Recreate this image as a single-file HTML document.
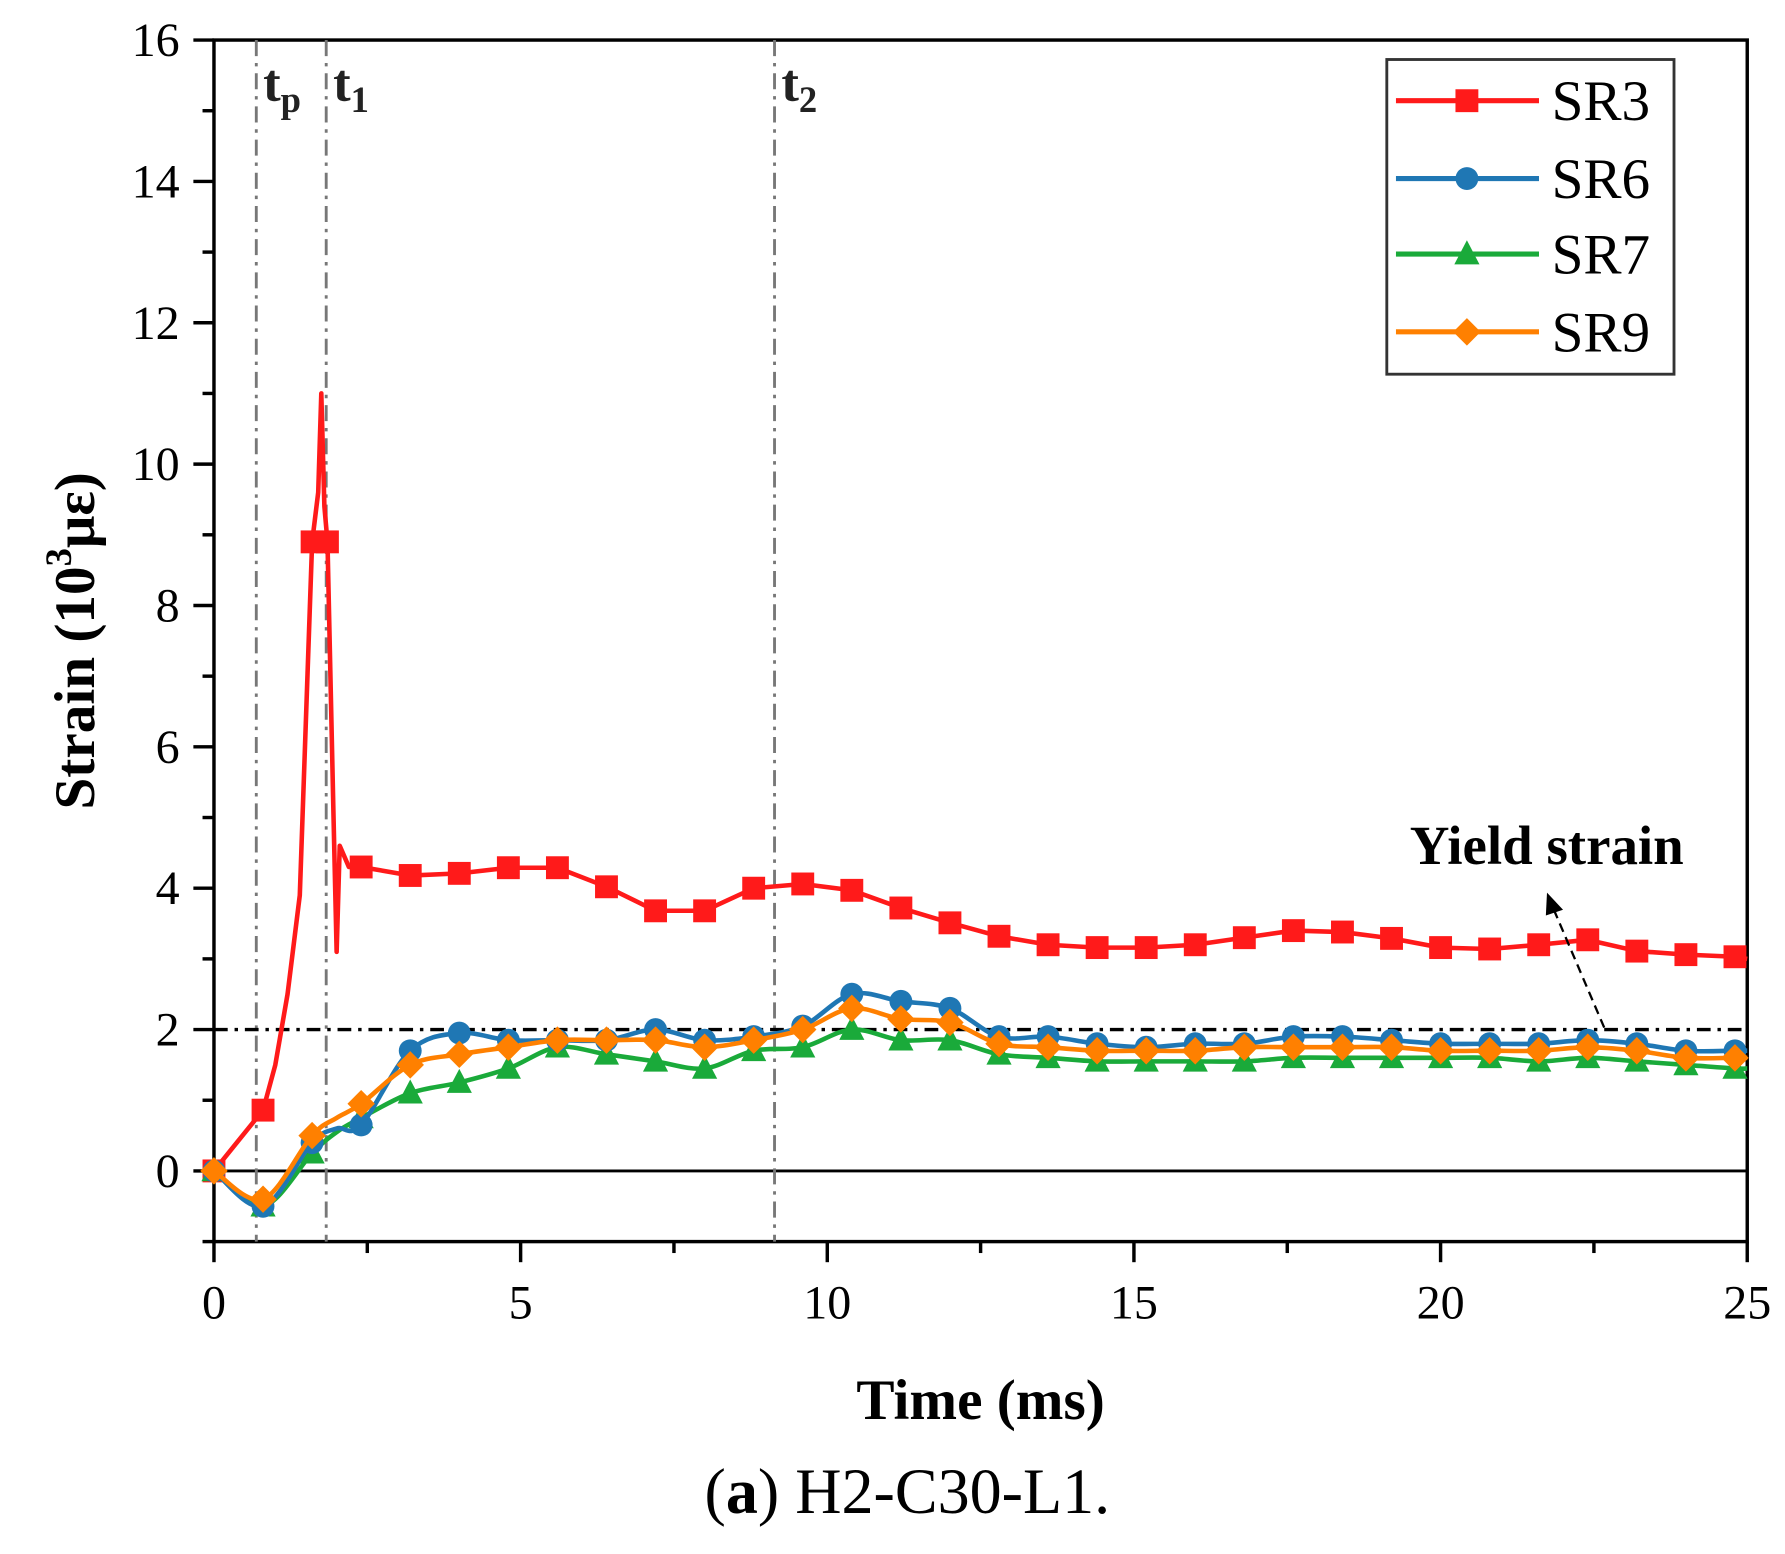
<!DOCTYPE html>
<html><head><meta charset="utf-8"><style>
html,body{margin:0;padding:0;background:#fff;}
svg{display:block;}
text{font-family:"Liberation Serif",serif;}
</style></head><body>
<svg id="chart" width="1785" height="1554" viewBox="0 0 1560 1358" preserveAspectRatio="none" xmlns="http://www.w3.org/2000/svg">
</svg>
<script>
const xTicks = [0,5,10,15,20,25];
const yTicks = [0,2,4,6,8,10,12,14,16];
const seriesNames = ["SR3","SR6","SR7","SR9"];
const seriesColors = ["#ff1a1a","#1f77b4","#1aaa3a","#ff8000"];
const markerTimes = [0.8,1.6,2.4,3.2,4.0,4.8,5.6,6.4,7.2,8.0,8.8,9.6,10.4,11.2,12.0,12.8,13.6,14.4,15.2,16.0,16.8,17.6,18.4,19.2,20.0,20.8,21.6,22.4,23.2,24.0,24.8];
const sr3Times = [0,0.8,1.0,1.2,1.4,1.6,1.7,1.75,1.8,1.85,1.95,2.0,2.05,2.2,2.4,3.2,4.0,4.8,5.6,6.4,7.2,8.0,8.8,9.6,10.4,11.2,12.0,12.8,13.6,14.4,15.2,16.0,16.8,17.6,18.4,19.2,20.0,20.8,21.6,22.4,23.2,24.0,24.8,25];
const sr3Values = [0,0.86,1.5,2.5,3.9,8.9,9.6,11.0,9.4,8.9,5.0,3.1,4.6,4.3,4.3,4.18,4.21,4.29,4.29,4.02,3.68,3.68,4.0,4.06,3.97,3.72,3.51,3.32,3.2,3.16,3.16,3.2,3.3,3.4,3.38,3.29,3.16,3.14,3.2,3.27,3.11,3.06,3.03,3.0];
const otherTimes = [0,0.8,1.6,2.0,2.4,3.2,4.0,4.8,5.6,6.4,7.2,8.0,8.8,9.6,10.4,11.2,12.0,12.8,13.6,14.4,15.2,16.0,16.8,17.6,18.4,19.2,20.0,20.8,21.6,22.4,23.2,24.0,24.8,25];
const sr6Values = [0,-0.5,0.4,0.6,0.65,1.7,1.95,1.85,1.85,1.85,2.0,1.85,1.9,2.05,2.5,2.4,2.3,1.9,1.9,1.8,1.75,1.8,1.8,1.9,1.9,1.85,1.8,1.8,1.8,1.85,1.8,1.7,1.7,1.7];
const sr7Values = [0,-0.5,0.25,0.55,0.75,1.1,1.25,1.45,1.75,1.65,1.55,1.45,1.7,1.75,2.0,1.85,1.85,1.65,1.6,1.55,1.55,1.55,1.55,1.6,1.6,1.6,1.6,1.6,1.55,1.6,1.55,1.5,1.45,1.45];
const sr9Values = [0,-0.4,0.5,0.75,0.95,1.5,1.65,1.75,1.85,1.85,1.85,1.75,1.85,2.0,2.3,2.15,2.1,1.8,1.75,1.7,1.7,1.7,1.75,1.75,1.75,1.75,1.7,1.7,1.7,1.75,1.7,1.6,1.6,1.6];
const eventTimes = [0.69,1.83,9.14];
const yieldStrain = 2;

const NS="http://www.w3.org/2000/svg";
const svg=document.getElementById('chart');
const L=187,R=1527,T=35,B=1085;
const X=t=>L+(t-0)/(25-0)*(R-L);
const Y=v=>B-(v-(-1))/(16-(-1))*(B-T);
function mk(tag,attrs,parent){const e=document.createElementNS(NS,tag);for(const k in attrs)e.setAttribute(k,attrs[k]);(parent||svg).appendChild(e);return e;}

let e=mk('rect',{x:L,y:T,width:R-L,height:B-T,fill:'none',stroke:'#000','stroke-width':3});


e=mk('line',{x1:L,y1:Y(0),x2:R,y2:Y(0),stroke:'#000','stroke-width':2.5});



for(let v=-1;v<=16;v++){
  const major=v%2===0;
  e=mk('line',{x1:L-(major?18:10),y1:Y(v),x2:L,y2:Y(v),stroke:'#000','stroke-width':3});
  
  
}
yTicks.forEach(v=>{
  e=mk('text',{x:L-30,y:Y(v)+14,'text-anchor':'end','font-size':42});
  e.textContent=v;
  
  
});
for(let t=0;t<=25;t+=2.5){
  const major=t%5===0;
  e=mk('line',{x1:X(t),y1:B,x2:X(t),y2:B+(major?18:10),stroke:'#000','stroke-width':3});
  
  
}
xTicks.forEach(t=>{
  e=mk('text',{x:X(t),y:1152,'text-anchor':'middle','font-size':42});
  e.textContent=t;
  
  
});

const evLabels=[['t','p'],['t','1'],['t','2']];
eventTimes.forEach((t,i)=>{
  e=mk('line',{x1:X(t),y1:T,x2:X(t),y2:B,stroke:'#777','stroke-width':2.5,'stroke-dasharray':'14 6 3 6'});
  
  
  const tx=mk('text',{x:X(t)+6,y:88,'font-size':46,'font-weight':'bold',fill:'#222'});
  tx.innerHTML=evLabels[i][0]+'<tspan font-size="32" dy="10">'+evLabels[i][1]+'</tspan>';
  
  
});

e=mk('line',{x1:L,y1:Y(yieldStrain),x2:R,y2:Y(yieldStrain),stroke:'#000','stroke-width':3,'stroke-dasharray':'12 6 3 6'});



function marker(type,x,y,c,name){
  let m;
  if(type===0)m=mk('rect',{x:x-10,y:y-10,width:20,height:20,fill:c});
  else if(type===1)m=mk('circle',{cx:x,cy:y,r:10,fill:c});
  else if(type===2)m=mk('polygon',{points:`${x},${y-12} ${x+11},${y+9} ${x-11},${y+9}`,fill:c});
  else m=mk('polygon',{points:`${x},${y-12} ${x+12},${y} ${x},${y+12} ${x-12},${y}`,fill:c});
  
  
}
function smooth(pts){
  let d='M'+pts[0][0].toFixed(1)+' '+pts[0][1].toFixed(1);
  for(let i=0;i<pts.length-1;i++){
    const p0=pts[Math.max(0,i-1)],p1=pts[i],p2=pts[i+1],p3=pts[Math.min(pts.length-1,i+2)];
    const k=(p2[0]-p1[0])<8?0:1/6;
    const c1=[p1[0]+(p2[0]-p0[0])*k,p1[1]+(p2[1]-p0[1])*k];
    const c2=[p2[0]-(p3[0]-p1[0])*k,p2[1]-(p3[1]-p1[1])*k];
    d+=' C'+c1[0].toFixed(1)+' '+c1[1].toFixed(1)+' '+c2[0].toFixed(1)+' '+c2[1].toFixed(1)+' '+p2[0].toFixed(1)+' '+p2[1].toFixed(1);
  }
  return d;
}
const series=[[sr3Times,sr3Values,0],[otherTimes,sr7Values,2],[otherTimes,sr6Values,1],[otherTimes,sr9Values,3]];
series.forEach(s=>{
  const si=s[2];
  const c=seriesColors[si];
  const pts=s[0].map((t,i)=>[X(t),Y(s[1][i])]);
  const d=si===0?pts.map((p,i)=>(i?'L':'M')+p[0].toFixed(1)+' '+p[1].toFixed(1)).join(' '):smooth(pts);
  const p=mk('path',{d:d,fill:'none',stroke:c,'stroke-width':4,'stroke-linejoin':'round'});
  
  
  s[0].forEach((t,i)=>{
    if(markerTimes.some(m=>Math.abs(m-t)<1e-6)||i===0) marker(si,X(t),Y(s[1][i]),c,seriesNames[si].toLowerCase()+'-marker');
  });
});
marker(0,X(1.85),Y(8.9),seriesColors[0],'sr3-marker');

e=mk('rect',{x:1212,y:52,width:251,height:275,fill:'#fff',stroke:'#333','stroke-width':2.5});


const ly=[88,156,222,290];
seriesNames.forEach((n,i)=>{
  e=mk('line',{x1:1220,y1:ly[i],x2:1345,y2:ly[i],stroke:seriesColors[i],'stroke-width':4.5});
  
  
  marker(i,1282,ly[i],seriesColors[i],'legend-marker');
  e=mk('text',{x:1356,y:ly[i]+17,'font-size':50});
  e.textContent=n;
  
  
});

e=mk('text',{x:1232,y:755,'font-size':48,'font-weight':'bold'});
e.textContent='Yield strain';


e=mk('line',{x1:1402,y1:898,x2:1358,y2:795,stroke:'#000','stroke-width':2,'stroke-dasharray':'8 5'});


e=mk('polygon',{points:'1352,780 1351,800 1366,795',fill:'#000'});



e=mk('text',{x:857,y:1240,'text-anchor':'middle','font-size':50,'font-weight':'bold'});
e.textContent='Time (ms)';


e=mk('text',{x:0,y:0,'text-anchor':'middle','font-size':50,'font-weight':'bold',transform:'translate(82,560) rotate(-90)'});
e.innerHTML='Strain (10<tspan font-size="32" dy="-20">3</tspan><tspan dy="20">με)</tspan>';


e=mk('text',{x:793,y:1322,'text-anchor':'middle','font-size':56});
e.innerHTML='(<tspan font-weight="bold">a</tspan>) H2-C30-L1.';


</script>
</body></html>
